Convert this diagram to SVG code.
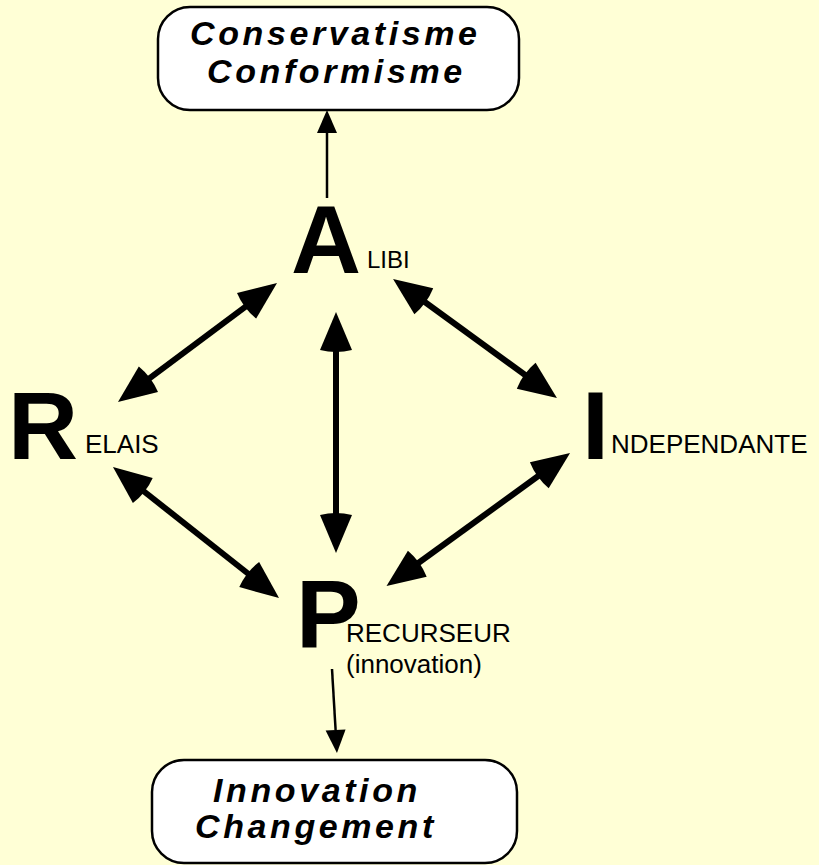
<svg xmlns="http://www.w3.org/2000/svg" width="819" height="865" viewBox="0 0 819 865">
<defs>
<style>
text{font-family:"Liberation Sans",Arial,Helvetica,sans-serif;fill:#000}
.box{fill:#fff;stroke:#000;stroke-width:2.5}
.bt{font-size:34px;font-weight:bold;font-style:italic;letter-spacing:3.6px}
.big{font-size:97px;font-weight:bold}
.sm{font-size:26px}
.thick{stroke:#000;stroke-width:6;fill:none;marker-start:url(#hb);marker-end:url(#hb)}
.thin{stroke:#000;stroke-width:2.5;fill:none;marker-end:url(#hs)}
</style>
<marker id="hb" markerUnits="userSpaceOnUse" viewBox="-5 -17 44 34" markerWidth="44" markerHeight="34" refX="0" refY="0" orient="auto-start-reverse" overflow="visible">
<path d="M0,-16 L38,0 L0,16 Q-4,0 0,-16 Z" fill="#000"/>
</marker>
<marker id="hs" markerUnits="userSpaceOnUse" viewBox="-1 -11 25 22" markerWidth="25" markerHeight="22" refX="0" refY="0" orient="auto" overflow="visible">
<path d="M0,-10 L23,0 L0,10 Z" fill="#000"/>
</marker>
</defs>
<rect width="819" height="865" fill="#FFFFD6"/>
<g id="connectors">
<line class="thin" x1="327" y1="198" x2="327" y2="133"/>
<line class="thin" x1="332" y1="669" x2="335.6" y2="730"/>
<line class="thick" x1="336" y1="350" x2="336" y2="515"/>
<line class="thick" x1="246.6" y1="305.8" x2="148.4" y2="379.2"/>
<line class="thick" x1="423.8" y1="301.3" x2="526.2" y2="375.7"/>
<line class="thick" x1="142.8" y1="490.5" x2="249.2" y2="574.5"/>
<line class="thick" x1="539.3" y1="475.3" x2="417.3" y2="563.7"/>
</g>
<g id="conservatisme">
<rect class="box" x="158" y="7" width="361" height="103" rx="32"/>
<text class="bt" x="190" y="45">Conservatisme</text>
<text class="bt" x="207" y="83">Conformisme</text>
</g>
<g id="innovation">
<rect class="box" x="152" y="760" width="365" height="103" rx="32"/>
<text class="bt" x="213" y="802">Innovation</text>
<text class="bt" x="195" y="838">Changement</text>
</g>
<g id="alibi">
<text class="big" x="291" y="273">A</text>
<text class="sm" x="367" y="268" style="font-size:24px">LIBI</text>
</g>
<g id="relais">
<text class="big" x="8" y="459">R</text>
<text class="sm" x="85" y="453">ELAIS</text>
</g>
<g id="independante">
<text class="big" x="582" y="459">I</text>
<text class="sm" x="611" y="453">NDEPENDANTE</text>
</g>
<g id="precurseur">
<text class="big" x="296" y="647">P</text>
<text class="sm" x="346" y="642">RECURSEUR</text>
<text class="sm" x="346" y="673">(innovation)</text>
</g>
</svg>
